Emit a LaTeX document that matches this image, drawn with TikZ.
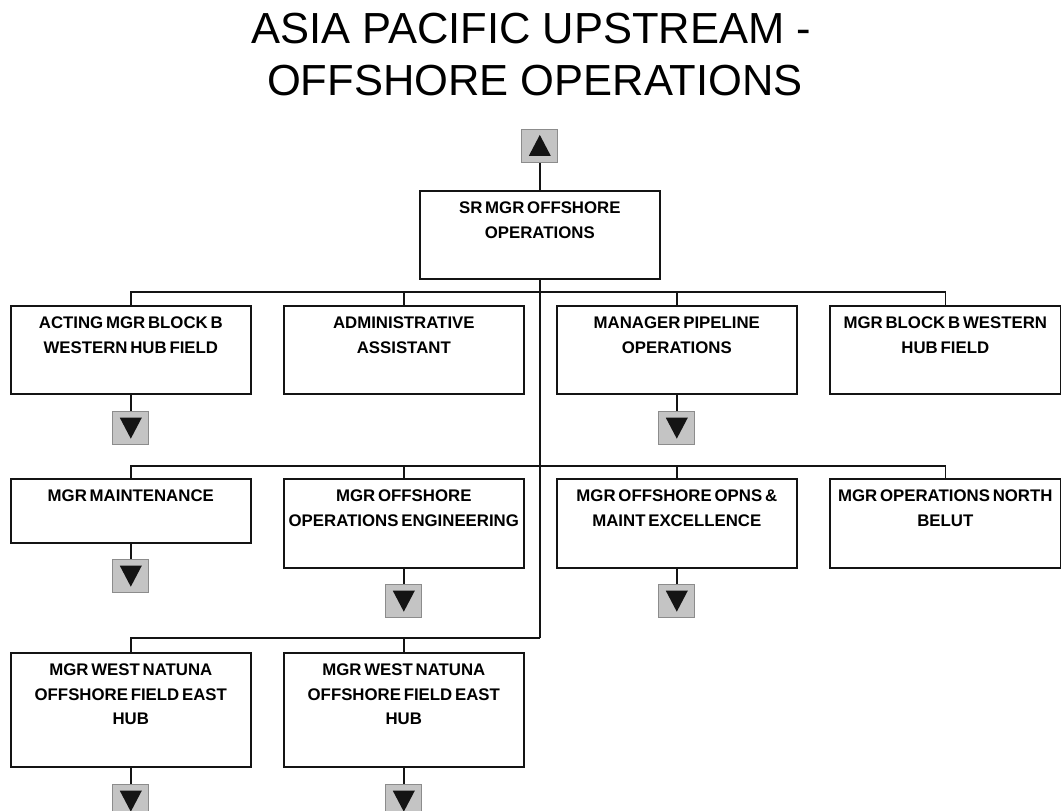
\documentclass[tikz,border=0pt]{standalone}
\usepackage{fontspec}
\setmainfont{Liberation Sans}
\newfontfamily\boxfont[WordSpace=0.6]{Liberation Sans}
\usetikzlibrary{calc}
\definecolor{ink}{HTML}{141414}
\definecolor{btnface}{HTML}{C4C4C4}
\definecolor{btnedge}{HTML}{8C8C8C}
\newcommand\dtri[1]{\fill[ink] ($(#1.center)+(-11,-10)$) -- ($(#1.center)+(11,-10)$) -- ($(#1.center)+(0,11)$) -- cycle;}
\newcommand\utri[1]{\fill[ink] ($(#1.center)+(-11,10)$) -- ($(#1.center)+(11,10)$) -- ($(#1.center)+(0,-11)$) -- cycle;}
\begin{document}
\begin{tikzpicture}[x=1pt,y=-1pt,
  obox/.style={draw=ink, line width=1.6pt, inner sep=0pt, anchor=north west, minimum width=240, minimum height=88},
  otext/.style={anchor=north, inner sep=0pt, align=center, text=black, font=\boxfont\bfseries\fontsize{16.8}{24.5}\selectfont},
  conn/.style={draw=ink, line width=1.6pt},
  btn/.style={draw=btnedge, fill=btnface, line width=1.2pt, minimum width=36, minimum height=33, inner sep=0pt},
  ttl/.style={anchor=base, inner sep=0pt, text=black, font=\fontsize{43.5}{52}\selectfont}]
\fill[white] (0,0) rectangle (1061,811);
\useasboundingbox (0,0) rectangle (1061,811);

% title
\node[ttl] (t1) at (531,43) {ASIA PACIFIC UPSTREAM -};
\node[ttl] (t2) at (535,95) {OFFSHORE OPERATIONS};

% top box
\node[obox] (sr) at (419,190) {};
\node[otext] (srt) at ([yshift=-12pt]sr.north) {SR MGR OFFSHORE\\OPERATIONS};
\node[btn, anchor=south] (up) at ([yshift=27pt]sr.north) {};
\utri{up}

% row 1
\node[obox] (b11) at (10,305) {};
\node[obox] (b12) at (283,305) {};
\node[obox] (b13) at (556,305) {};
\node[obox, minimum width=231] (b14) at (829,305) {};
\node[otext] at ([yshift=-12pt]b11.north) {ACTING MGR BLOCK B\\WESTERN HUB FIELD};
\node[otext] at ([yshift=-12pt]b12.north) {ADMINISTRATIVE\\ASSISTANT};
\node[otext] at ([yshift=-12pt]b13.north) {MANAGER PIPELINE\\OPERATIONS};
\node[otext] at ([yshift=-12pt]b14.north) {MGR BLOCK B WESTERN\\HUB FIELD};

% row 2
\node[obox, minimum height=64] (b21) at (10,478) {};
\node[obox, minimum height=89] (b22) at (283,478) {};
\node[obox, minimum height=89] (b23) at (556,478) {};
\node[obox, minimum height=89, minimum width=231] (b24) at (829,478) {};
\node[otext] at ([yshift=-12pt]b21.north) {MGR MAINTENANCE};
\node[otext] at ([yshift=-12pt]b22.north) {MGR OFFSHORE\\OPERATIONS ENGINEERING};
\node[otext] at ([yshift=-12pt]b23.north) {MGR OFFSHORE OPNS \&\\MAINT EXCELLENCE};
\node[otext] at ([yshift=-12pt]b24.north) {MGR OPERATIONS NORTH\\BELUT};

% row 3
\node[obox, minimum height=114] (b31) at (10,652) {};
\node[obox, minimum height=114] (b32) at (283,652) {};
\node[otext] at ([yshift=-12pt]b31.north) {MGR WEST NATUNA\\OFFSHORE FIELD EAST\\HUB};
\node[otext] at ([yshift=-12pt]b32.north) {MGR WEST NATUNA\\OFFSHORE FIELD EAST\\HUB};

% junctions
\coordinate (j1) at (540,292);
\coordinate (j2) at (540,466);
\coordinate (j3) at (540,638);

% connectors
\draw[conn] (up) -- (sr);
\draw[conn] (sr.south) -- (sr.south |- j3);
\draw[conn] (b11.north) |- (b14.north |- j1) -- (b14.north);
\draw[conn] (b12.north) -- (b12.north |- j1);
\draw[conn] (b13.north) -- (b13.north |- j1);
\draw[conn] (b21.north) |- (b24.north |- j2) -- (b24.north);
\draw[conn] (b22.north) -- (b22.north |- j2);
\draw[conn] (b23.north) -- (b23.north |- j2);
\draw[conn] (b31.north) |- (sr.south |- j3);
\draw[conn] (b32.north) -- (b32.north |- j3);

% down buttons
\node[btn, anchor=north] (d11) at ([yshift=-16pt]b11.south) {};
\node[btn, anchor=north] (d13) at ([yshift=-16pt]b13.south) {};
\node[btn, anchor=north] (d21) at ([yshift=-15pt]b21.south) {};
\node[btn, anchor=north] (d22) at ([yshift=-15pt]b22.south) {};
\node[btn, anchor=north] (d23) at ([yshift=-15pt]b23.south) {};
\node[btn, anchor=north] (d31) at ([yshift=-16pt]b31.south) {};
\node[btn, anchor=north] (d32) at ([yshift=-16pt]b32.south) {};
\foreach \d/\b in {d11/b11,d13/b13,d21/b21,d22/b22,d23/b23,d31/b31,d32/b32}{
  \draw[conn] (\b.south) -- (\d.north);
  \dtri{\d}
}
\end{tikzpicture}
\end{document}
